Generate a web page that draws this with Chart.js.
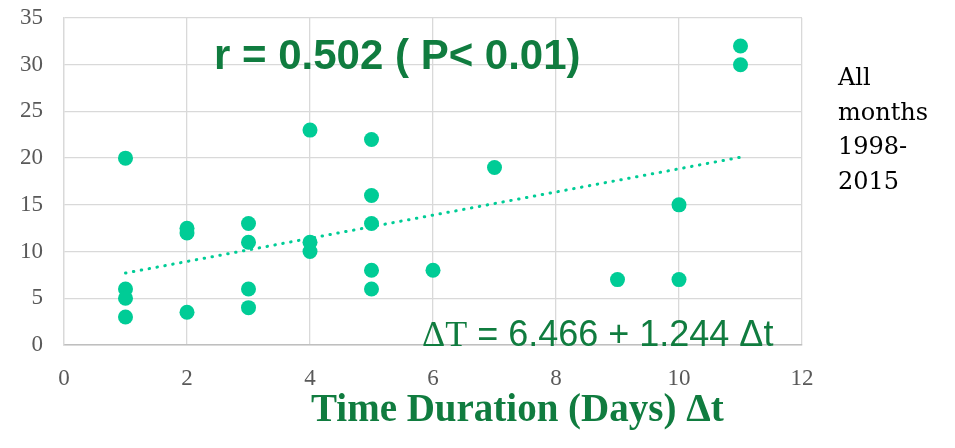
<!DOCTYPE html>
<html>
<head>
<meta charset="utf-8">
<script src="https://cdn.jsdelivr.net/npm/chart.js@4.4.1/dist/chart.umd.min.js"></script>
<style>
  html, body { margin: 0; padding: 0; background: #fff; }
  #wrap { width: 955px; height: 448px; }
</style>
</head>
<body>
<div id="wrap"><canvas id="scatterChart" width="955" height="448"></canvas></div>
<script>
// time duration (days) vs delta T, all months 1998-2015
const durationDays = [1, 1, 1, 1, 2, 2, 2, 3, 3, 3, 3, 4, 4, 4, 5, 5, 5, 5, 5, 6, 7, 9, 10, 10, 11, 11];
const deltaT = [20, 6, 5, 3, 12.5, 12, 3.5, 13, 11, 6, 4, 23, 11, 10, 22, 16, 13, 8, 6, 8, 19, 7, 15, 7, 32, 30];

// linear trend end points
const trendDays = [1, 11];
const trendDeltaT = [7.7, 20.1];

const xTicks = [0, 2, 4, 6, 8, 10, 12];
const yTicks = [0, 5, 10, 15, 20, 25, 30, 35];

const xTitle = 'Time Duration (Days) \u0394t';
const rText = 'r = 0.502 ( P< 0.01)';
const eqText = ['\u0394T', ' = 6.466 + 1.244 \u0394t'];
const noteLines = ['All', 'months', '1998-', '2015'];

const TEAL = '#00CC96';
const GREEN = '#107C3F';

const textPlugin = {
    id: 'texts',
    afterDraw(chart) {
        const ctx = chart.ctx;
        const area = chart.chartArea;
        ctx.save();
        ctx.textBaseline = 'alphabetic';
        ctx.textAlign = 'left';

        // r value
        ctx.fillStyle = GREEN;
        ctx.font = 'bold 42px "Liberation Sans", Arial, sans-serif';
        ctx.fillText(rText, area.left + 150, area.top + 51);

        // regression equation
        let x = area.left + 358;
        const y = area.bottom + 1;
        ctx.font = '36px "Liberation Serif", serif';
        ctx.fillText(eqText[0], x, y);
        x += ctx.measureText(eqText[0]).width;
        ctx.font = '36px "Liberation Sans", Arial, sans-serif';
        ctx.fillText(eqText[1], x, y);

        // axis title
        ctx.font = 'bold 39px "Liberation Serif", serif';
        ctx.fillText(xTitle, area.left + 247, area.bottom + 76);

        // side note
        ctx.fillStyle = '#000';
        ctx.font = '24px "DejaVu Serif", serif';
        noteLines.forEach((line, i) => {
            ctx.fillText(line, area.right + 36, area.top + 67 + i * 34.7);
        });
        ctx.restore();
    }
};

function init() {
    const ctx = document.getElementById('scatterChart').getContext('2d');
    const tickFont = { family: '"Liberation Serif", serif', size: 23 };

    new Chart(ctx, {
        type: 'scatter',
        data: {
            datasets: [
                {
                    label: 'Delta T',
                    data: durationDays.map((d, i) => ({ x: d, y: deltaT[i] })),
                    backgroundColor: TEAL,
                    borderWidth: 0,
                    pointRadius: 7.5,
                    pointHoverRadius: 7.5,
                    order: 1
                },
                {
                    label: 'Trend',
                    type: 'line',
                    data: trendDays.map((d, i) => ({ x: d, y: trendDeltaT[i] })),
                    borderColor: TEAL,
                    borderWidth: 3,
                    borderDash: [0.5, 7.5],
                    borderCapStyle: 'round',
                    pointRadius: 0,
                    fill: false,
                    order: 2
                }
            ]
        },
        options: {
            responsive: false,
            animation: false,
            layout: { padding: { top: 18, right: 153, left: 0, bottom: 0 } },
            plugins: {
                legend: { display: false },
                tooltip: { enabled: false }
            },
            scales: {
                x: {
                    type: 'linear',
                    min: 0,
                    max: 12,
                    afterBuildTicks: s => { s.ticks = xTicks.map(v => ({ value: v })); },
                    afterFit: s => { s.height = 103; s.paddingLeft = 0; s.paddingRight = 0; },
                    grid: { color: '#d9d9d9', lineWidth: 1.3, drawTicks: false },
                    border: { color: '#bfbfbf', width: 1.5 },
                    ticks: { color: '#595959', font: tickFont, padding: 20 }
                },
                y: {
                    type: 'linear',
                    min: 0,
                    max: 35,
                    afterBuildTicks: s => { s.ticks = yTicks.map(v => ({ value: v })); },
                    afterFit: s => { s.width = 64; s.paddingTop = 0; s.paddingBottom = 0; },
                    grid: { color: '#d9d9d9', lineWidth: 1.3, drawTicks: false },
                    border: { color: '#d9d9d9', width: 1.3 },
                    ticks: { color: '#595959', font: tickFont, padding: 21 }
                }
            }
        },
        plugins: [textPlugin]
    });
}

window.onload = init;
</script>
</body>
</html>
